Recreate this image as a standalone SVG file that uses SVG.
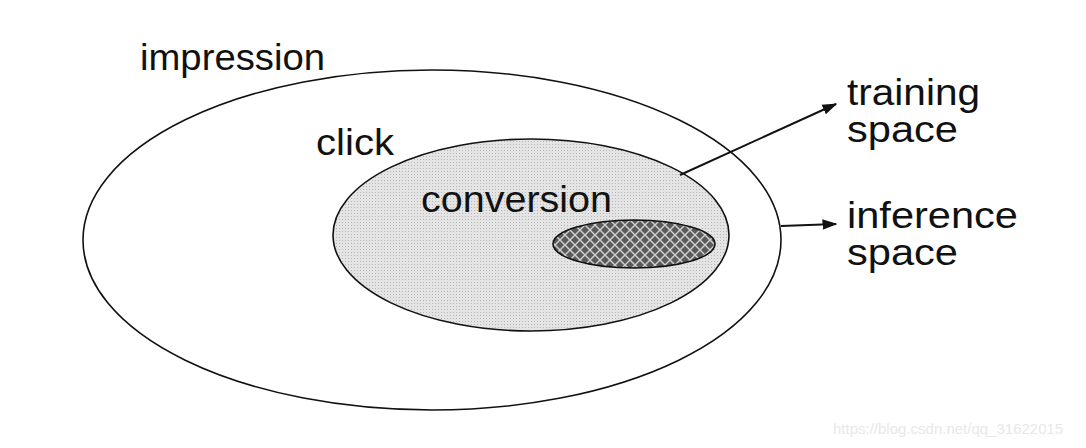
<svg xmlns="http://www.w3.org/2000/svg" width="1086" height="448" viewBox="0 0 1086 448">
<style>
.lbl{font-family:"Century Gothic","URW Gothic","Liberation Sans",sans-serif;font-size:37px;fill:#111}
.edge{stroke:#111;stroke-width:2;fill:none}
.ring{stroke:#111;stroke-width:1.6}
</style>
<defs>
<pattern id="dots" width="3" height="3" patternUnits="userSpaceOnUse">
<rect width="3" height="3" fill="#e4e4e4"/>
<rect width="1" height="1" fill="#b8b8b8"/>
</pattern>
<pattern id="hatch" width="10" height="10" patternUnits="userSpaceOnUse">
<rect width="10" height="10" fill="#5a5a5a"/>
<path d="M0,0L10,10M10,0L0,10" stroke="#d0d0d0" stroke-width="1.4"/>
</pattern>
<marker id="arr" viewBox="0 0 10 10" refX="9" refY="5" markerWidth="15" markerHeight="15" orient="auto" markerUnits="userSpaceOnUse">
<path d="M0,1.5L10,5L0,8.5Z" fill="#111"/>
</marker>
</defs>
<rect width="1086" height="448" fill="#fff"/>
<g id="impression">
<ellipse class="ring" cx="432" cy="240" rx="349" ry="170" fill="#fff"/>
<text class="lbl" x="140" y="70" textLength="185" lengthAdjust="spacingAndGlyphs">impression</text>
</g>
<g id="click">
<ellipse class="ring" cx="531" cy="235" rx="198" ry="96" fill="url(#dots)"/>
<text class="lbl" x="316" y="155" textLength="78" lengthAdjust="spacingAndGlyphs">click</text>
</g>
<g id="conversion">
<ellipse class="ring" cx="634" cy="244" rx="81" ry="24" fill="url(#hatch)"/>
<text class="lbl" x="421" y="212" textLength="191" lengthAdjust="spacingAndGlyphs">conversion</text>
</g>
<g id="connectors">
<line class="edge" x1="680" y1="175" x2="836" y2="104" marker-end="url(#arr)"/>
<line class="edge" x1="781" y1="226" x2="836" y2="224" marker-end="url(#arr)"/>
</g>
<g id="training">
<text class="lbl" x="847" y="105" textLength="133" lengthAdjust="spacingAndGlyphs">training</text>
<text class="lbl" x="847" y="142" textLength="111" lengthAdjust="spacingAndGlyphs">space</text>
</g>
<g id="inference">
<text class="lbl" x="847" y="228" textLength="171" lengthAdjust="spacingAndGlyphs">inference</text>
<text class="lbl" x="847" y="265" textLength="111" lengthAdjust="spacingAndGlyphs">space</text>
</g>
<text x="833" y="434" font-family="Liberation Sans,Arial,sans-serif" font-size="15" fill="#e8e8e8">https://blog.csdn.net/qq_31622015</text>
</svg>
